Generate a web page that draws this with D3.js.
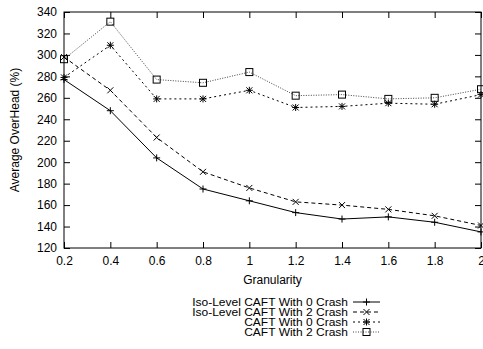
<!DOCTYPE html>
<html><head><meta charset="utf-8">
<script src="https://cdn.jsdelivr.net/npm/d3@7"></script>
<style>body{margin:0;background:#fff}svg{display:block}text{font-family:"Liberation Sans",Arial,sans-serif;fill:#000}</style>
</head><body><svg id="c" width="483" height="349"></svg>
<script>
const granularity=[0.2,0.4,0.6,0.8,1.0,1.2,1.4,1.6,1.8,2.0];
const iso0=[277,248,204,175,164,153,147,149,144,135];
const iso2=[298,267,223,191,176,163,160,156,150,141];
const caft0=[279,309,259,259,267,251,252,255,254,263];
const caft2=[296,331,277,274,284,262,263,259,260,268];
const seriesNames=["Iso-Level CAFT With 0 Crash","Iso-Level CAFT With 2 Crash","CAFT With 0 Crash","CAFT With 2 Crash"];
const xTicks=[0.2,0.4,0.6,0.8,1,1.2,1.4,1.6,1.8,2];
const yTicks=[120,140,160,180,200,220,240,260,280,300,320,340];

const svg=d3.select("#c");
const L=64,R=481,T=12,B=248;
const x=d3.scaleLinear().domain([0.2,2]).range([L,R]);
const y=d3.scaleLinear().domain([120,340]).range([B,T]);
const FS="12px";

const styles=[
 {dash:null,marker:"plus"},
 {dash:"4,3",marker:"cross"},
 {dash:"2,3",marker:"star"},
 {dash:"1,1.5",marker:"square"}
];
const data=[iso0,iso2,caft0,caft2];

svg.append("rect").attr("x",L).attr("y",T).attr("width",R-L).attr("height",B-T).attr("fill","none").attr("stroke","#000").attr("stroke-width",1);

const gx=svg.append("g").attr("transform",`translate(0,${B})`).call(d3.axisBottom(x).tickValues(xTicks).tickSize(-6).tickPadding(8).tickFormat(d3.format("")));
const gx2=svg.append("g").attr("transform",`translate(0,${T})`).call(d3.axisTop(x).tickValues(xTicks).tickSize(-6).tickFormat(""));
const gy=svg.append("g").attr("transform",`translate(${L},0)`).call(d3.axisLeft(y).tickValues(yTicks).tickSize(-6).tickPadding(7));
const gy2=svg.append("g").attr("transform",`translate(${R},0)`).call(d3.axisRight(y).tickValues(yTicks).tickSize(-6).tickFormat(""));
[gx,gx2,gy,gy2].forEach(g=>{g.select(".domain").remove();g.selectAll("line").attr("stroke","#000");g.selectAll("text").style("font-size",FS).attr("fill","#000");});
gx.selectAll("text").attr("dy","0.71em");

svg.append("text").attr("x",(L+R)/2).attr("y",284).attr("text-anchor","middle").style("font-size",FS).text("Granularity");
svg.append("text").attr("transform",`translate(19,${(T+B)/2}) rotate(-90)`).attr("text-anchor","middle").style("font-size",FS).text("Average OverHead (%)");

function marker(g,type,cx,cy){
  const s=3.5;
  if(type==="plus"){g.append("path").attr("d",`M${cx-s},${cy}H${cx+s}M${cx},${cy-s}V${cy+s}`).attr("stroke","#000").attr("fill","none");}
  else if(type==="cross"){g.append("path").attr("d",`M${cx-3},${cy-3}L${cx+3},${cy+3}M${cx-3},${cy+3}L${cx+3},${cy-3}`).attr("stroke","#000").attr("fill","none");}
  else if(type==="star"){g.append("path").attr("d",`M${cx-s},${cy}H${cx+s}M${cx},${cy-s}V${cy+s}M${cx-3},${cy-3}L${cx+3},${cy+3}M${cx-3},${cy+3}L${cx+3},${cy-3}`).attr("stroke","#000").attr("fill","none");}
  else {g.append("rect").attr("x",cx-3.5).attr("y",cy-3.5).attr("width",7).attr("height",7).attr("stroke","#000").attr("fill","none");}
}

const line=d3.line().x((d,i)=>x(granularity[i])).y(d=>y(d));
data.forEach((vals,k)=>{
  const g=svg.append("g");
  g.append("path").datum(vals).attr("d",line).attr("fill","none").attr("stroke",k===3?"#444":"#000").attr("stroke-width",1).attr("stroke-dasharray",styles[k].dash);
  vals.forEach((v,i)=>marker(g,styles[k].marker,x(granularity[i]),y(v)));
});

const legY=[302,312,322,332];
const legX=348, sx0=353, sx1=380;
seriesNames.forEach((n,k)=>{
  const g=svg.append("g");
  const t=g.append("text").attr("x",legX).attr("y",legY[k]).attr("dy","0.35em").attr("text-anchor","end").style("font-size","10px").text(n);
  const w=t.node().getComputedTextLength();
  t.attr("textLength",w*1.2).attr("lengthAdjust","spacingAndGlyphs");
  g.append("path").attr("d",`M${sx0},${legY[k]}H${sx1}`).attr("stroke",k===3?"#444":"#000").attr("stroke-dasharray",styles[k].dash).attr("fill","none");
  marker(g,styles[k].marker,(sx0+sx1)/2,legY[k]);
});
</script></body></html>
